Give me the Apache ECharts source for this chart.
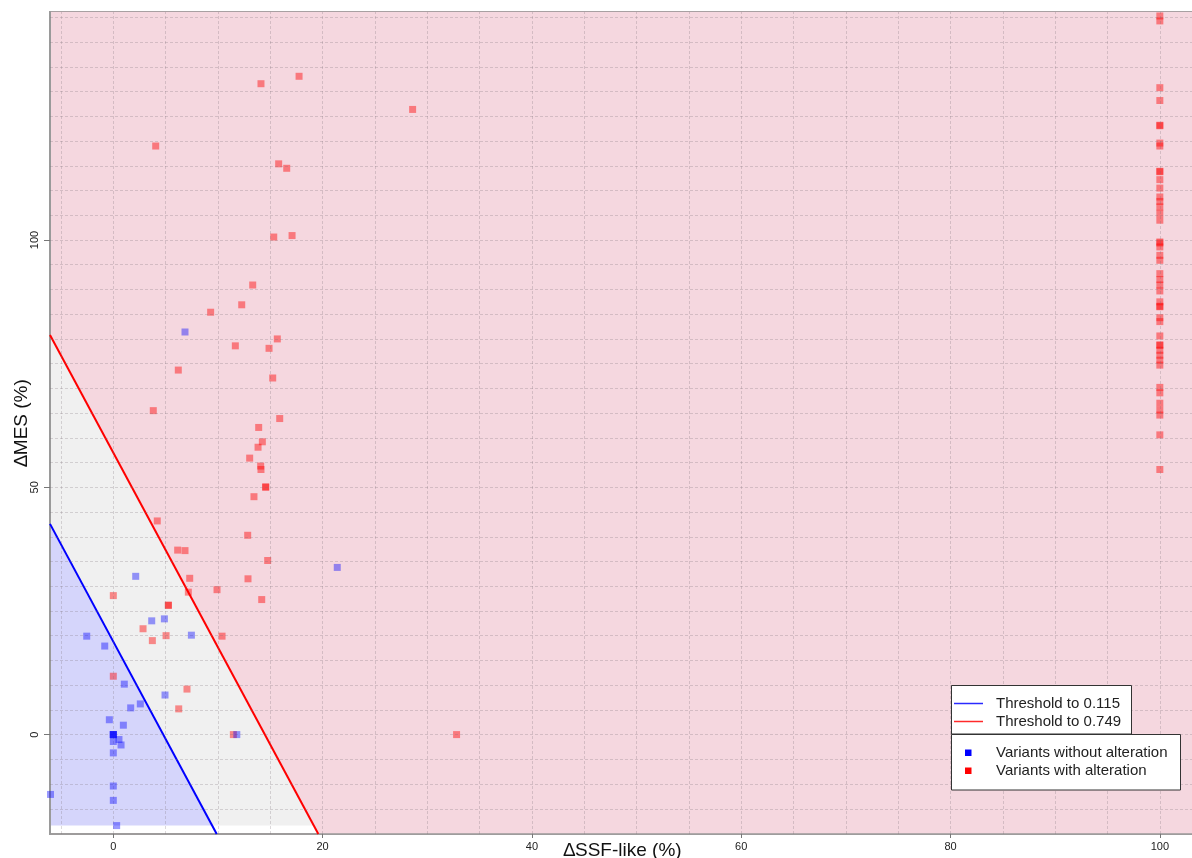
<!DOCTYPE html>
<html>
<head>
<meta charset="utf-8">
<script src="https://cdn.jsdelivr.net/npm/echarts@6/dist/echarts.min.js"></script>
<style>
html,body{margin:0;padding:0;background:#fff;}
#chart{width:1192px;height:858px;}
</style>
</head>
<body>
<div id="chart"></div>
<script>
// ---- axis extents & ticks ----
const xRange = [-6.05, 103.36];
const yRange = [-20.1, 146.1];
const xTicks = [0, 20, 40, 60, 80, 100];
const yTicks = [0, 50, 100];
const xGrid = [-5, 0, 5, 10, 15, 20, 25, 30, 35, 40, 45, 50, 55, 60, 65, 70, 75, 80, 85, 90, 95, 100];
const yGrid = [-15, -10, -5, 0, 5, 10, 15, 20, 25, 30, 35, 40, 45, 50, 55, 60, 65, 70, 75, 80, 85, 90, 95, 100, 105, 110, 115, 120, 125, 130, 135, 140, 145];

// ---- threshold lines (endpoints) ----
const thresholdBlue = [[-6.05, 42.6], [9.88, -20.1]];
const thresholdRed = [[-6.05, 80.8], [19.59, -20.1]];
const fillFloor = -18.4;

// ---- variants with alteration (red) ----
const redX = [17.75, 14.11, 28.6, 4.05, 15.8, 16.57, 15.33, 17.08, 13.32, 12.27, 9.3, 15.67, 11.66, 14.88, 6.21, 15.23, 3.82, 15.9, 13.89, 14.24, 13.83, 13.03, 14.08, 14.11, 14.56, 14.56, 13.44,
  4.2, 12.84, 6.15, 6.85, 14.75, 7.3, 12.87, 0, 7.17, 9.91, 14.18, 5.26, 5.26, 2.84, 3.73, 5.04, 10.39, 0, 7.04, 6.25, 11.47, 32.8,
  100, 100, 100, 100, 100, 100, 100, 100, 100, 100, 100, 100, 100, 100, 100, 100, 100, 100, 100, 100, 100, 100, 100, 100, 100, 100, 100, 100, 100, 100, 100, 100, 100, 100, 100, 100, 100, 100, 100, 100, 100, 100, 100, 100, 100];
const redY = [133.1, 131.6, 126.4, 119.0, 115.4, 114.5, 100.6, 100.9, 90.9, 86.9, 85.4, 80.0, 78.6, 78.1, 73.7, 72.1, 65.5, 63.9, 62.1, 59.2, 58.1, 55.9, 54.3, 53.6, 50.1, 50.0, 48.1,
  43.2, 40.3, 37.3, 37.2, 35.2, 31.6, 31.5, 28.1, 28.8, 29.3, 27.3, 26.2, 26.1, 21.4, 19.0, 20.0, 19.9, 11.8, 9.2, 5.2, 0, 0,
  145.3, 144.3, 130.8, 128.2, 123.2, 123.1, 119.6, 119.0, 113.9, 113.8, 112.2, 110.5, 108.7, 107.8, 106.7, 105.4, 104.0, 99.6, 99.4, 98.6, 96.9, 95.9, 93.2, 92.0, 90.9, 89.7, 87.5, 86.6, 86.5, 84.3, 83.5, 80.6, 78.8, 78.7, 77.7, 76.7, 75.7, 74.7, 70.2, 69.1, 67.0, 65.6, 64.6, 60.6, 53.6];

// ---- variants without alteration (blue) ----
const blueX = [6.85, 21.4, 2.14, 4.88, 3.67, 7.46, -2.54, -0.82, 1.05, 4.94, 2.58, 1.66, -0.38, 0.96, 0, 0, 0, 0, 11.8, 0.54, 0, 0.74, 0, 0, 0, -6.0, 0.32];
const blueY = [81.4, 33.8, 32.0, 23.4, 23.0, 20.1, 19.9, 17.9, 10.2, 8.0, 6.2, 5.4, 3.0, 1.9, 0, 0, 0, 0, 0, -1.0, -1.4, -2.1, -3.7, -10.4, -13.3, -12.1, -18.4];

const seriesNames = ['Threshold to 0.115', 'Threshold to 0.749', 'Variants without alteration', 'Variants with alteration'];

// ---- helpers ----
function zip(xs, ys) { return xs.map((x, i) => [x, ys[i]]); }
function xOnLine(line, y) {
  const [a, b] = line;
  return a[0] + (y - a[1]) * (b[0] - a[0]) / (b[1] - a[1]);
}

const pinkPoly = [thresholdRed[0], [xRange[0], yRange[1]], [xRange[1], yRange[1]], [xRange[1], yRange[0]], thresholdRed[1]];
const grayPoly = [thresholdRed[0], [xOnLine(thresholdRed, fillFloor), fillFloor], [xOnLine(thresholdBlue, fillFloor), fillFloor], thresholdBlue[0]];
const bluePoly = [thresholdBlue[0], [xOnLine(thresholdBlue, fillFloor), fillFloor], [xRange[0], fillFloor]];

function region(poly, color) {
  return {
    type: 'custom', silent: true, z: 0, clip: true, animation: false,
    data: [[0, 0]],
    renderItem: function (params, api) {
      return { type: 'polygon', shape: { points: poly.map(p => api.coord(p)) }, style: { fill: color } };
    }
  };
}

const FONT = '"Liberation Sans", Arial, sans-serif';
const chart = echarts.init(document.getElementById('chart'));

chart.setOption({
  animation: false,
  backgroundColor: '#ffffff',
  textStyle: { fontFamily: FONT },
  grid: { left: 50, top: 12, right: -3, bottom: 24, containLabel: false, outerBoundsMode: 'none', show: true, borderColor: '#a8a0a2', borderWidth: 2, backgroundColor: 'transparent' },
  xAxis: {
    type: 'value', min: xRange[0], max: xRange[1],
    name: '\u2206SSF-like (%)', nameLocation: 'middle', nameGap: 7, nameMoveOverlap: false,
    nameTextStyle: { fontSize: 19, color: '#111', fontFamily: FONT, verticalAlign: 'top' },
    axisLine: { show: true, onZero: false, lineStyle: { color: '#9a9a9a', width: 1.5 } },
    axisTick: { show: true, customValues: xTicks, length: 4, lineStyle: { color: '#777' } },
    axisLabel: { customValues: xTicks, fontSize: 11, color: '#222', margin: 7, fontFamily: FONT },
    splitLine: { show: false }
  },
  yAxis: {
    type: 'value', min: yRange[0], max: yRange[1],
    name: '\u2206MES (%)', nameLocation: 'middle', nameGap: 19, nameRotate: 90, nameMoveOverlap: false,
    nameTextStyle: { fontSize: 19, color: '#111', fontFamily: FONT },
    axisLine: { show: true, onZero: false, lineStyle: { color: '#9a9a9a', width: 2 } },
    axisTick: { show: true, customValues: yTicks, length: 6, lineStyle: { color: '#777' } },
    axisLabel: { customValues: yTicks, fontSize: 11, color: '#222', margin: 10, rotate: 90, fontFamily: FONT },
    splitLine: { show: false }
  },
  series: [
    region(pinkPoly, '#f5d7df'),
    region(grayPoly, '#f0f0f0'),
    region(bluePoly, '#d5d5fb'),
    {
      type: 'line', data: [], z: 1, silent: true,
      markLine: {
        silent: true, animation: false, symbol: ['none', 'none'], label: { show: false },
        lineStyle: { color: 'rgba(120,110,115,0.26)', type: [3, 2], width: 1 },
        emphasis: { disabled: true },
        data: xGrid.map(v => ({ xAxis: v })).concat(yGrid.map(v => ({ yAxis: v })))
      }
    },
    {
      name: seriesNames[0], type: 'line', data: thresholdBlue, z: 3, symbol: 'none', silent: true,
      lineStyle: { color: '#0000ff', width: 2 }
    },
    {
      name: seriesNames[1], type: 'line', data: thresholdRed, z: 3, symbol: 'none', silent: true,
      lineStyle: { color: '#ff0000', width: 2 }
    },
    {
      name: seriesNames[3], type: 'scatter', data: zip(redX, redY), z: 4, symbol: 'rect', symbolSize: 7,
      itemStyle: { color: 'rgba(255,0,0,0.55)' }
    },
    {
      name: seriesNames[2], type: 'scatter', data: zip(blueX, blueY), z: 5, symbol: 'rect', symbolSize: 7,
      itemStyle: { color: 'rgba(0,0,255,0.5)' }
    }
  ],
  graphic: [
    { type: 'rect', z: 100, shape: { x: 951.5, y: 685.5, width: 180, height: 48.5 }, style: { fill: '#fff', stroke: '#333', lineWidth: 1 } },
    { type: 'line', z: 101, shape: { x1: 954, y1: 703.5, x2: 983, y2: 703.5 }, style: { stroke: '#2a2aff', lineWidth: 1.5 } },
    { type: 'line', z: 101, shape: { x1: 954, y1: 721.5, x2: 983, y2: 721.5 }, style: { stroke: '#ff2a2a', lineWidth: 1.5 } },
    { type: 'text', z: 101, x: 996, y: 703.5, style: { text: seriesNames[0], font: '15px ' + FONT, fill: '#222', verticalAlign: 'middle' } },
    { type: 'text', z: 101, x: 996, y: 721.5, style: { text: seriesNames[1], font: '15px ' + FONT, fill: '#222', verticalAlign: 'middle' } },
    { type: 'rect', z: 100, shape: { x: 951.5, y: 734.5, width: 229, height: 55.5 }, style: { fill: '#fff', stroke: '#333', lineWidth: 1 } },
    { type: 'rect', z: 101, shape: { x: 965, y: 749.5, width: 6.5, height: 6.5 }, style: { fill: '#0000ff' } },
    { type: 'rect', z: 101, shape: { x: 965, y: 767.5, width: 6.5, height: 6.5 }, style: { fill: '#ff0000' } },
    { type: 'text', z: 101, x: 996, y: 753, style: { text: seriesNames[2], font: '15px ' + FONT, fill: '#222', verticalAlign: 'middle' } },
    { type: 'text', z: 101, x: 996, y: 771, style: { text: seriesNames[3], font: '15px ' + FONT, fill: '#222', verticalAlign: 'middle' } }
  ]
});
</script>
</body>
</html>
